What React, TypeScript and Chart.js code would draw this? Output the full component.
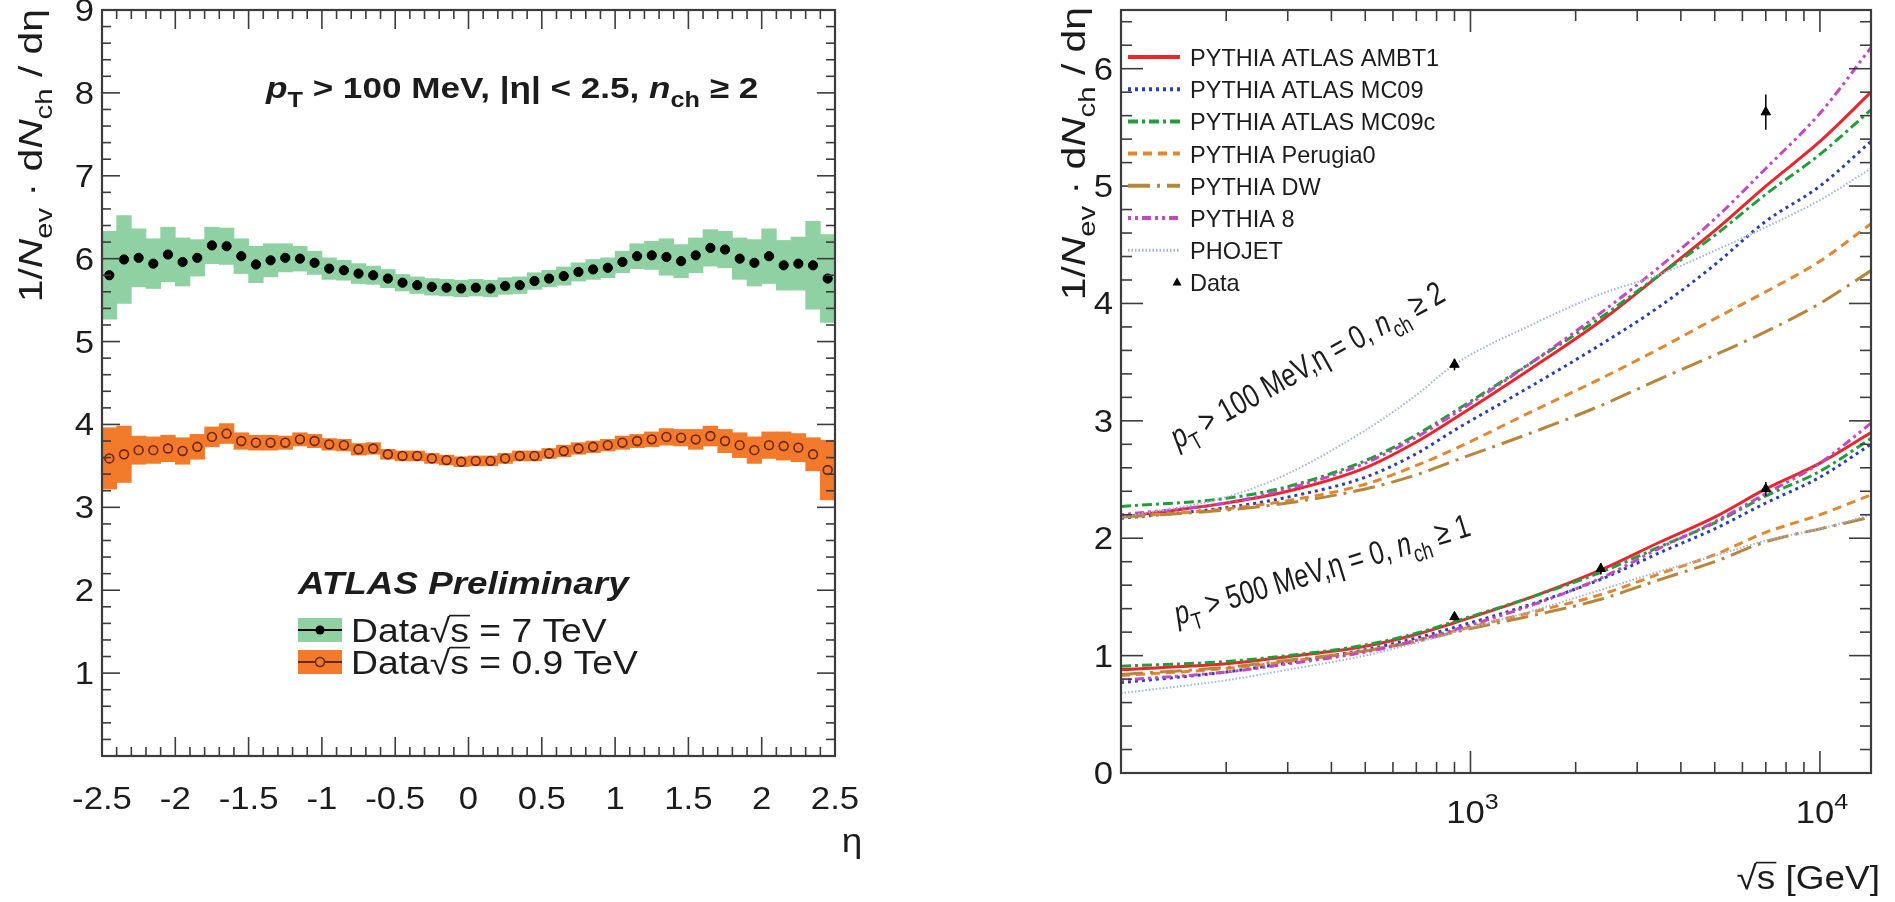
import React, { useEffect, useRef } from 'react';
import { Chart, registerables } from 'chart.js';

Chart.register(...registerables);

// ---------------- data: left panel (dN/deta vs eta) ----------------
const etaBinCenters = [-2.45, -2.35, -2.25, -2.15, -2.05, -1.95, -1.85, -1.75, -1.65, -1.55, -1.45, -1.35, -1.25, -1.15, -1.05, -0.95, -0.85, -0.75, -0.65, -0.55, -0.45, -0.35, -0.25, -0.15, -0.05, 0.05, 0.15, 0.25, 0.35, 0.45, 0.55, 0.65, 0.75, 0.85, 0.95, 1.05, 1.15, 1.25, 1.35, 1.45, 1.55, 1.65, 1.75, 1.85, 1.95, 2.05, 2.15, 2.25, 2.35, 2.45];
const dNdEta7TeV = [5.80, 5.99, 6.01, 5.94, 6.05, 5.96, 6.01, 6.16, 6.15, 6.03, 5.93, 5.98, 6.01, 6.00, 5.95, 5.88, 5.86, 5.82, 5.80, 5.76, 5.71, 5.68, 5.66, 5.65, 5.64, 5.65, 5.64, 5.67, 5.68, 5.73, 5.76, 5.79, 5.84, 5.87, 5.89, 5.96, 6.03, 6.04, 6.02, 5.97, 6.04, 6.13, 6.11, 6.00, 5.95, 6.03, 5.92, 5.94, 5.92, 5.76];
const syst7TeV = [0.53, 0.53, 0.35, 0.30, 0.33, 0.29, 0.22, 0.22, 0.22, 0.21, 0.22, 0.20, 0.17, 0.15, 0.14, 0.13, 0.12, 0.12, 0.11, 0.11, 0.10, 0.10, 0.10, 0.10, 0.10, 0.10, 0.10, 0.10, 0.10, 0.10, 0.10, 0.11, 0.11, 0.12, 0.12, 0.13, 0.15, 0.17, 0.22, 0.20, 0.21, 0.22, 0.22, 0.25, 0.28, 0.33, 0.30, 0.32, 0.53, 0.53];
const dNdEta09TeV = [3.59, 3.64, 3.69, 3.69, 3.71, 3.68, 3.73, 3.85, 3.89, 3.80, 3.78, 3.78, 3.78, 3.82, 3.80, 3.76, 3.75, 3.70, 3.71, 3.64, 3.62, 3.62, 3.59, 3.57, 3.55, 3.56, 3.56, 3.59, 3.62, 3.62, 3.65, 3.68, 3.71, 3.73, 3.75, 3.78, 3.80, 3.82, 3.85, 3.84, 3.82, 3.86, 3.80, 3.75, 3.69, 3.75, 3.74, 3.72, 3.64, 3.45];
const syst09TeV = [0.37, 0.34, 0.17, 0.16, 0.16, 0.16, 0.15, 0.12, 0.12, 0.10, 0.09, 0.09, 0.08, 0.08, 0.08, 0.07, 0.07, 0.07, 0.07, 0.06, 0.06, 0.06, 0.06, 0.06, 0.06, 0.06, 0.06, 0.06, 0.06, 0.06, 0.06, 0.07, 0.07, 0.07, 0.07, 0.08, 0.08, 0.09, 0.10, 0.10, 0.12, 0.12, 0.14, 0.15, 0.16, 0.16, 0.17, 0.17, 0.20, 0.36];
const etaTickValues = [-2.5, -2, -1.5, -1, -0.5, 0, 0.5, 1, 1.5, 2, 2.5];
const etaTickLabels = ['-2.5', '-2', '-1.5', '-1', '-0.5', '0', '0.5', '1', '1.5', '2', '2.5'];
const leftYTickValues = [1, 2, 3, 4, 5, 6, 7, 8, 9];
const leftYTickLabels = ['1', '2', '3', '4', '5', '6', '7', '8', '9'];

// ---------------- data: right panel (dN/deta at eta=0 vs sqrt(s)) ----------------
const sqrtSGeV = [100, 200, 300, 500, 700, 900, 1500, 2360, 3500, 5000, 7000, 10000, 14000];
const ambt1Pt100 = [2.18, 2.30, 2.40, 2.60, 2.82, 3.02, 3.45, 3.85, 4.25, 4.62, 5.00, 5.38, 5.80];
const mc09Pt100 = [2.17, 2.26, 2.35, 2.52, 2.72, 2.92, 3.30, 3.65, 3.98, 4.33, 4.70, 5.00, 5.38];
const mc09cPt100 = [2.27, 2.34, 2.44, 2.66, 2.88, 3.08, 3.50, 3.88, 4.25, 4.58, 4.93, 5.27, 5.65];
const perugia0Pt100 = [2.18, 2.25, 2.32, 2.46, 2.62, 2.76, 3.08, 3.36, 3.62, 3.87, 4.10, 4.36, 4.68];
const dwPt100 = [2.18, 2.24, 2.30, 2.42, 2.54, 2.66, 2.90, 3.13, 3.36, 3.56, 3.76, 4.00, 4.28];
const pythia8Pt100 = [2.20, 2.30, 2.42, 2.64, 2.86, 3.06, 3.50, 3.92, 4.32, 4.72, 5.15, 5.62, 6.18];
const phojetPt100 = [2.18, 2.35, 2.55, 2.92, 3.22, 3.48, 3.82, 4.08, 4.25, 4.45, 4.65, 4.88, 5.15];

const ambt1Pt500 = [0.88, 0.93, 0.99, 1.08, 1.18, 1.28, 1.50, 1.73, 1.97, 2.18, 2.42, 2.64, 2.90];
const mc09Pt500 = [0.77, 0.86, 0.94, 1.05, 1.15, 1.24, 1.44, 1.65, 1.88, 2.08, 2.30, 2.52, 2.80];
const mc09cPt500 = [0.91, 0.95, 1.00, 1.09, 1.19, 1.29, 1.50, 1.71, 1.93, 2.13, 2.36, 2.57, 2.85];
const perugia0Pt500 = [0.83, 0.89, 0.95, 1.04, 1.13, 1.21, 1.37, 1.52, 1.70, 1.86, 2.05, 2.20, 2.37];
const dwPt500 = [0.84, 0.90, 0.96, 1.04, 1.12, 1.20, 1.34, 1.48, 1.65, 1.80, 1.97, 2.08, 2.18];
const pythia8Pt500 = [0.79, 0.86, 0.93, 1.03, 1.13, 1.22, 1.43, 1.66, 1.92, 2.14, 2.38, 2.64, 2.98];
const phojetPt500 = [0.68, 0.79, 0.88, 1.00, 1.11, 1.20, 1.38, 1.56, 1.72, 1.85, 1.98, 2.08, 2.20];

const dataSqrtSPt100 = [900, 7000];
const dataPt100 = [3.48, 5.63];
const dataErrPt100 = [0.05, 0.15];
const dataSqrtSPt500 = [900, 2360, 7000];
const dataPt500 = [1.33, 1.74, 2.42];
const dataErrPt500 = [0.03, 0.05, 0.06];

const modelNames = ['PYTHIA ATLAS AMBT1', 'PYTHIA ATLAS MC09', 'PYTHIA ATLAS MC09c', 'PYTHIA Perugia0', 'PYTHIA DW', 'PYTHIA 8', 'PHOJET'];
const rightYTickValues = [0, 1, 2, 3, 4, 5, 6];
const rightYTickLabels = ['0', '1', '2', '3', '4', '5', '6'];
const rightXTickValues = [1000, 10000];
const rightXTickExponents = ['3', '4'];

// ---------------- styles ----------------
const FAM = "'Liberation Sans', Arial, Helvetica, sans-serif";
const TXT = '#1c1c1c';
const AXIS = '#3c3c3c';
const GREEN_BAND = '#8fd1a3';
const ORANGE_BAND = '#f27a2a';
const SX = 1.12;
const RX = 945;

const modelStyles = [
  { color: '#e8262c', dash: [] as number[], width: 3 },
  { color: '#2b3fb5', dash: [3, 4], width: 3 },
  { color: '#1f9e3a', dash: [10, 4, 3, 4], width: 3 },
  { color: '#e5862f', dash: [9, 6], width: 3 },
  { color: '#b8863b', dash: [22, 7, 3, 7], width: 3 },
  { color: '#c447c4', dash: [3, 4, 3, 4, 9, 4], width: 3 },
  { color: '#9fb3dd', dash: [1.5, 2], width: 2 },
];
const modelsPt100 = [ambt1Pt100, mc09Pt100, mc09cPt100, perugia0Pt100, dwPt100, pythia8Pt100, phojetPt100];
const modelsPt500 = [ambt1Pt500, mc09Pt500, mc09cPt500, perugia0Pt500, dwPt500, pythia8Pt500, phojetPt500];

type Seg = { t: string; it?: boolean; b?: boolean; sub?: boolean; sup?: boolean; over?: boolean };

function segFont(s: Seg, size: number) {
  const sz = s.sub || s.sup ? size * 0.72 : size;
  return `${s.it ? 'italic ' : ''}${s.b ? 'bold ' : ''}${sz}px ${FAM}`;
}

function drawRich(ctx: any, segs: Seg[], x: number, y: number, size: number, opt: any = {}) {
  const sx = opt.sx ?? SX;
  ctx.save();
  ctx.translate(x, y);
  if (opt.rot) ctx.rotate(opt.rot);
  ctx.scale(sx, 1);
  let w = 0;
  for (const s of segs) {
    ctx.font = segFont(s, size);
    w += ctx.measureText(s.t).width;
  }
  let cx = opt.align === 'center' ? -w / 2 : opt.align === 'right' ? -w : 0;
  ctx.fillStyle = opt.color ?? TXT;
  ctx.strokeStyle = opt.color ?? TXT;
  ctx.textAlign = 'left';
  ctx.textBaseline = 'alphabetic';
  for (const s of segs) {
    ctx.font = segFont(s, size);
    const dy = s.sub ? size * 0.3 : s.sup ? -size * 0.45 : 0;
    ctx.fillText(s.t, cx, dy);
    const sw = ctx.measureText(s.t).width;
    if (s.over) {
      ctx.lineWidth = Math.max(1.2, size * 0.05);
      ctx.beginPath();
      ctx.moveTo(cx - 1, -size * 0.8);
      ctx.lineTo(cx + sw + 1, -size * 0.8);
      ctx.stroke();
    }
    cx += sw;
  }
  ctx.restore();
}

function seg(ctx: any, x1: number, y1: number, x2: number, y2: number) {
  ctx.beginPath();
  ctx.moveTo(x1, y1);
  ctx.lineTo(x2, y2);
  ctx.stroke();
}

const yTitleSegs: Seg[] = [
  { t: '1/' }, { t: 'N', it: true }, { t: 'ev', sub: true }, { t: ' · d' }, { t: 'N', it: true }, { t: 'ch', sub: true }, { t: ' / dη' },
];

// ---------------- left chart ----------------
const leftDecor = {
  id: 'leftDecor',
  afterDraw(chart: any) {
    const { ctx, chartArea: a } = chart;
    const xs = chart.scales.x;
    const ys = chart.scales.y;
    ctx.save();
    ctx.strokeStyle = AXIS;
    ctx.lineWidth = 1.6;
    for (let i = 0; i <= 45; i++) {
      const py = ys.getPixelForValue(i * 0.2);
      const len = i % 5 === 0 ? 18 : 9;
      seg(ctx, a.left, py, a.left + len, py);
      seg(ctx, a.right, py, a.right - len, py);
    }
    for (let i = 0; i <= 50; i++) {
      const px = xs.getPixelForValue(-2.5 + i * 0.1);
      const len = i % 5 === 0 ? 19 : 9;
      seg(ctx, px, a.bottom, px, a.bottom - len);
      seg(ctx, px, a.top, px, a.top + len);
    }
    ctx.lineWidth = 2.2;
    ctx.strokeRect(a.left, a.top, a.right - a.left, a.bottom - a.top);

    // tick labels
    leftYTickValues.forEach((v, i) => {
      drawRich(ctx, [{ t: leftYTickLabels[i] }], a.left - 8, ys.getPixelForValue(v) + 11, 31, { align: 'right' });
    });
    etaTickValues.forEach((v, i) => {
      drawRich(ctx, [{ t: etaTickLabels[i] }], xs.getPixelForValue(v), a.bottom + 53, 31, { align: 'center' });
    });
    // axis titles
    drawRich(ctx, [{ t: 'η' }], 852, 852, 33, { align: 'center' });
    drawRich(ctx, yTitleSegs, 42, 9, 34, { align: 'right', rot: -Math.PI / 2, sx: 1.2 });

    // header
    drawRich(ctx, [
      { t: 'p', it: true, b: true }, { t: 'T', sub: true, b: true }, { t: ' > 100 MeV, |η| < 2.5, ', b: true },
      { t: 'n', it: true, b: true }, { t: 'ch', sub: true, b: true }, { t: ' ≥ 2', b: true },
    ], 266, 98, 30, { sx: 1.17 });

    drawRich(ctx, [{ t: 'ATLAS Preliminary', it: true, b: true }], 298, 594, 32, { sx: 1.15 });

    // legend entries
    const entries = [
      { y: 630, band: GREEN_BAND, fillMarker: '#000', stroke: '#000', label: '7 TeV' },
      { y: 662, band: ORANGE_BAND, fillMarker: null, stroke: '#6b2410', label: '0.9 TeV' },
    ];
    entries.forEach((e) => {
      ctx.fillStyle = e.band;
      ctx.fillRect(298, e.y - 12, 44, 24);
      ctx.strokeStyle = e.stroke;
      ctx.lineWidth = 2;
      seg(ctx, 298, e.y, 342, e.y);
      ctx.beginPath();
      ctx.arc(320, e.y, 4.5, 0, Math.PI * 2);
      if (e.fillMarker) {
        ctx.fillStyle = e.fillMarker;
        ctx.fill();
      } else {
        ctx.fillStyle = ORANGE_BAND;
        ctx.fill();
        ctx.lineWidth = 1.6;
        ctx.stroke();
      }
      drawRich(ctx, [{ t: 'Data' }, { t: '√' }, { t: 's', over: true }, { t: ' = ' + e.label }], 351, e.y + 12, 33, { sx: 1.13 });
    });
    ctx.restore();
  },
};

function LeftChart() {
  const ref = useRef<HTMLCanvasElement>(null);
  useEffect(() => {
    const chart = new Chart(ref.current as HTMLCanvasElement, {
      type: 'bar',
      data: {
        datasets: [
          {
            type: 'bar',
            label: 'Syst. 7 TeV',
            data: etaBinCenters.map((x, i) => ({ x, y: [dNdEta7TeV[i] - syst7TeV[i], dNdEta7TeV[i] + syst7TeV[i]] })) as any,
            backgroundColor: GREEN_BAND,
            borderWidth: 0,
            barPercentage: 1,
            categoryPercentage: 1,
            grouped: false,
            order: 4,
          } as any,
          {
            type: 'bar',
            label: 'Syst. 0.9 TeV',
            data: etaBinCenters.map((x, i) => ({ x, y: [dNdEta09TeV[i] - syst09TeV[i], dNdEta09TeV[i] + syst09TeV[i]] })) as any,
            backgroundColor: ORANGE_BAND,
            borderWidth: 0,
            barPercentage: 1,
            categoryPercentage: 1,
            grouped: false,
            order: 3,
          } as any,
          {
            type: 'scatter',
            label: 'Data √s = 7 TeV',
            data: etaBinCenters.map((x, i) => ({ x, y: dNdEta7TeV[i] })),
            pointRadius: 4.6,
            pointBackgroundColor: '#000',
            pointBorderColor: '#000',
            pointBorderWidth: 1,
            showLine: false,
            order: 2,
          } as any,
          {
            type: 'scatter',
            label: 'Data √s = 0.9 TeV',
            data: etaBinCenters.map((x, i) => ({ x, y: dNdEta09TeV[i] })),
            pointRadius: 4.4,
            pointBackgroundColor: 'rgba(0,0,0,0)',
            pointBorderColor: '#6b2410',
            pointBorderWidth: 1.6,
            showLine: false,
            order: 1,
          } as any,
        ],
      },
      options: {
        animation: false,
        responsive: false,
        maintainAspectRatio: false,
        layout: { padding: { left: 0, right: 110, top: 10, bottom: 146 } },
        plugins: { legend: { display: false }, tooltip: { enabled: false }, title: { display: false } },
        scales: {
          x: {
            type: 'linear', min: -2.5, max: 2.5, offset: false,
            grid: { display: false }, border: { display: false }, ticks: { display: false },
            afterFit: (s: any) => { s.height = 0; },
          },
          y: {
            type: 'linear', min: 0, max: 9,
            grid: { display: false }, border: { display: false }, ticks: { display: false },
            afterFit: (s: any) => { s.width = 102; },
          },
        },
      } as any,
      plugins: [leftDecor],
    });
    return () => chart.destroy();
  }, []);
  return <canvas ref={ref} width={945} height={902} style={{ position: 'absolute', left: 0, top: 0, width: 945, height: 902 }} />;
}

// ---------------- right chart ----------------
const rightDecor = {
  id: 'rightDecor',
  afterDatasetsDraw(chart: any) {
    const { ctx } = chart;
    const xs = chart.scales.x;
    const ys = chart.scales.y;
    ctx.save();
    ctx.strokeStyle = '#000';
    ctx.lineWidth = 1.5;
    const bars = [
      [dataSqrtSPt100, dataPt100, dataErrPt100],
      [dataSqrtSPt500, dataPt500, dataErrPt500],
    ];
    bars.forEach(([xsV, vs, es]: any) => {
      xsV.forEach((xv: number, i: number) => {
        const px = xs.getPixelForValue(xv);
        seg(ctx, px, ys.getPixelForValue(vs[i] - es[i]), px, ys.getPixelForValue(vs[i] + es[i]));
      });
    });
    ctx.restore();
  },
  afterDraw(chart: any) {
    const { ctx, chartArea: a } = chart;
    const xs = chart.scales.x;
    const ys = chart.scales.y;
    ctx.save();
    ctx.strokeStyle = AXIS;
    ctx.lineWidth = 1.6;
    for (let i = 0; i <= 32; i++) {
      const py = ys.getPixelForValue(i * 0.2);
      const len = i % 5 === 0 ? 22 : 11;
      seg(ctx, a.left, py, a.left + len, py);
      seg(ctx, a.right, py, a.right - len, py);
    }
    for (let n = 2; n <= 4; n++) {
      for (let k = 1; k <= 9; k++) {
        const v = k * Math.pow(10, n);
        if (v <= 100 || v >= 14000) continue;
        const px = xs.getPixelForValue(v);
        const len = k === 1 ? 22 : 11;
        seg(ctx, px, a.bottom, px, a.bottom - len);
        seg(ctx, px, a.top, px, a.top + len);
      }
    }
    ctx.lineWidth = 2.2;
    ctx.strokeRect(a.left, a.top, a.right - a.left, a.bottom - a.top);

    rightYTickValues.forEach((v, i) => {
      drawRich(ctx, [{ t: rightYTickLabels[i] }], a.left - 8, ys.getPixelForValue(v) + 11, 31, { align: 'right' });
    });
    rightXTickValues.forEach((v, i) => {
      drawRich(ctx, [{ t: '10' }, { t: rightXTickExponents[i], sup: true }], xs.getPixelForValue(v) + 2, a.bottom + 50, 31, { align: 'center' });
    });
    drawRich(ctx, [{ t: '√' }, { t: 's', over: true }, { t: ' [GeV]' }], 1880 - RX, 889, 33, { align: 'right' });
    drawRich(ctx, yTitleSegs, 1085 - RX, 7, 34, { align: 'right', rot: -Math.PI / 2, sx: 1.2 });

    // legend
    modelNames.forEach((name, i) => {
      const y = 57 + i * 32.2;
      const st = modelStyles[i];
      ctx.strokeStyle = st.color;
      ctx.lineWidth = st.width + 1;
      ctx.setLineDash(st.dash);
      seg(ctx, 1128 - RX, y, 1180 - RX, y);
      ctx.setLineDash([]);
      drawRich(ctx, [{ t: name }], 1190 - RX, y + 9, 24, { sx: 0.98 });
    });
    const dy = 57 + 7 * 32.2;
    ctx.fillStyle = '#000';
    ctx.beginPath();
    ctx.moveTo(1177 - RX, dy - 5);
    ctx.lineTo(1181.5 - RX, dy + 3);
    ctx.lineTo(1172.5 - RX, dy + 3);
    ctx.closePath();
    ctx.fill();
    drawRich(ctx, [{ t: 'Data' }], 1190 - RX, dy + 9, 24, { sx: 0.98 });

    // annotations
    drawRich(ctx, [
      { t: 'p', it: true }, { t: 'T', sub: true }, { t: ' > 100 MeV,η = 0, ' }, { t: 'n', it: true }, { t: 'ch', sub: true }, { t: ' ≥ 2' },
    ], 1178 - RX, 449, 33, { rot: -29 * Math.PI / 180, sx: 0.77 });
    drawRich(ctx, [
      { t: 'p', it: true }, { t: 'T', sub: true }, { t: ' > 500 MeV,η = 0, ' }, { t: 'n', it: true }, { t: 'ch', sub: true }, { t: ' ≥ 1' },
    ], 1178 - RX, 625, 33, { rot: -17 * Math.PI / 180, sx: 0.77 });
    ctx.restore();
  },
};

function RightChart() {
  const ref = useRef<HTMLCanvasElement>(null);
  useEffect(() => {
    const lineSets: any[] = [];
    modelNames.forEach((name, i) => {
      const st = modelStyles[i];
      [modelsPt100[i], modelsPt500[i]].forEach((vals, j) => {
        lineSets.push({
          type: 'line',
          label: name + (j === 0 ? ' (pT>100 MeV)' : ' (pT>500 MeV)'),
          data: sqrtSGeV.map((x, k) => ({ x, y: vals[k] })),
          borderColor: st.color,
          borderWidth: st.width,
          borderDash: st.dash,
          pointRadius: 0,
          fill: false,
          cubicInterpolationMode: 'monotone',
          order: 10 - i,
        });
      });
    });
    const chart = new Chart(ref.current as HTMLCanvasElement, {
      type: 'line',
      data: {
        datasets: [
          ...lineSets,
          {
            type: 'scatter',
            label: 'Data (pT>100 MeV)',
            data: dataSqrtSPt100.map((x, i) => ({ x, y: dataPt100[i] })),
            pointStyle: 'triangle',
            pointRadius: 5.5,
            pointBackgroundColor: '#000',
            pointBorderColor: '#000',
            showLine: false,
            order: 0,
          },
          {
            type: 'scatter',
            label: 'Data (pT>500 MeV)',
            data: dataSqrtSPt500.map((x, i) => ({ x, y: dataPt500[i] })),
            pointStyle: 'triangle',
            pointRadius: 5.5,
            pointBackgroundColor: '#000',
            pointBorderColor: '#000',
            showLine: false,
            order: 0,
          },
        ],
      },
      options: {
        animation: false,
        responsive: false,
        maintainAspectRatio: false,
        layout: { padding: { left: 0, right: 24, top: 10, bottom: 129 } },
        plugins: { legend: { display: false }, tooltip: { enabled: false }, title: { display: false } },
        scales: {
          x: {
            type: 'logarithmic', min: 100, max: 14000,
            grid: { display: false }, border: { display: false }, ticks: { display: false },
            afterFit: (s: any) => { s.height = 0; },
          },
          y: {
            type: 'linear', min: 0, max: 6.5,
            grid: { display: false }, border: { display: false }, ticks: { display: false },
            afterFit: (s: any) => { s.width = 1121 - RX; },
          },
        },
      } as any,
      plugins: [rightDecor],
    });
    return () => chart.destroy();
  }, []);
  return <canvas ref={ref} width={950} height={902} style={{ position: 'absolute', left: RX, top: 0, width: 950, height: 902 }} />;
}

export default function App() {
  return (
    <div style={{ position: 'fixed', left: 0, top: 0, width: 1895, height: 902, background: '#ffffff', overflow: 'hidden' }}>
      <LeftChart />
      <RightChart />
    </div>
  );
}
